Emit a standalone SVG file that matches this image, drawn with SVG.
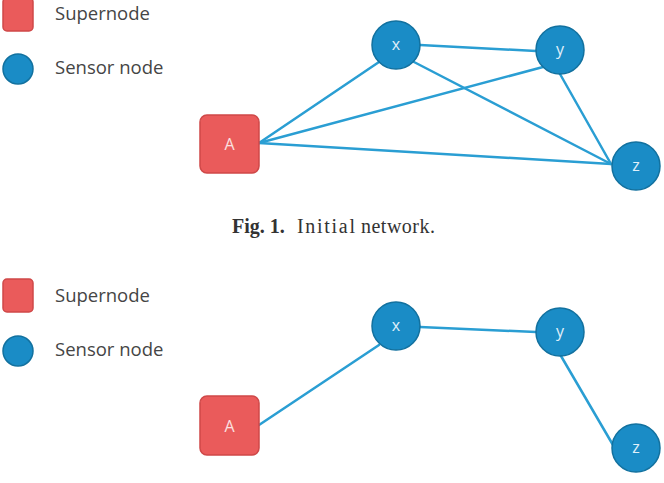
<svg xmlns="http://www.w3.org/2000/svg" width="664" height="483" viewBox="0 0 664 483">
<style>
.sup{fill:#EA5B5B;stroke:#CF4848;stroke-width:1.5}
.sen{fill:#1A8CC6;stroke:#12719F;stroke-width:1.5}
.leg{font-family:"Open Sans","Liberation Sans",sans-serif;font-size:18.5px;fill:#454545}
.lbl{font-family:"Open Sans","Liberation Sans",sans-serif;font-size:16px;text-anchor:middle}
.la{fill:#FBE0E0}
.ls{fill:#E0F0FA}
.edge{stroke:#2A9ED3;stroke-width:2.5;fill:none;stroke-linecap:round}
.cap{font-family:"Liberation Serif","Times New Roman",serif;font-size:20px;fill:#333}
</style>
<rect width="664" height="483" fill="#fff"/>
<!-- Top panel -->
<g id="legend1">
<rect class="sup" x="3" y="-2" width="30" height="33" rx="4"/>
<text class="leg" x="55" y="20">Supernode</text>
<circle class="sen" cx="18" cy="69" r="15"/>
<text class="leg" x="55" y="74">Sensor node</text>
</g>
<g id="edges1">
<line class="edge" x1="259" y1="143" x2="379" y2="62"/>
<line class="edge" x1="259" y1="143" x2="543" y2="67"/>
<line class="edge" x1="259" y1="143" x2="611" y2="164"/>
<line class="edge" x1="420" y1="45" x2="536" y2="51"/>
<line class="edge" x1="414" y1="62" x2="611" y2="164"/>
<line class="edge" x1="560" y1="74" x2="611" y2="164"/>
</g>
<g id="A1"><rect class="sup" x="200" y="115" width="59" height="58" rx="7"/><text class="lbl la" x="229.5" y="150">A</text></g>
<g id="x1"><circle class="sen" cx="396" cy="45" r="24"/><text class="lbl ls" x="396" y="50">x</text></g>
<g id="y1"><circle class="sen" cx="560" cy="50" r="24"/><text class="lbl ls" x="560" y="55">y</text></g>
<g id="z1"><circle class="sen" cx="636" cy="166" r="24"/><text class="lbl ls" x="636" y="171">z</text></g>
<text class="cap" y="233"><tspan x="232" font-weight="bold">Fig. 1.</tspan><tspan x="297" textLength="58" lengthAdjust="spacing">Initial</tspan><tspan x="361" textLength="74" lengthAdjust="spacing">network.</tspan></text>
<!-- Bottom panel -->
<g id="legend2">
<rect class="sup" x="3" y="279" width="30" height="33" rx="4"/>
<text class="leg" x="55" y="302">Supernode</text>
<circle class="sen" cx="18" cy="351" r="15"/>
<text class="leg" x="55" y="356">Sensor node</text>
</g>
<g id="edges2">
<line class="edge" x1="259" y1="425" x2="379" y2="345"/>
<line class="edge" x1="420" y1="327" x2="536" y2="332"/>
<line class="edge" x1="561" y1="356" x2="613" y2="445"/>
</g>
<g id="A2"><rect class="sup" x="200" y="396" width="59" height="59" rx="7"/><text class="lbl la" x="229.5" y="431.5">A</text></g>
<g id="x2"><circle class="sen" cx="396" cy="326" r="24"/><text class="lbl ls" x="396" y="331">x</text></g>
<g id="y2"><circle class="sen" cx="560" cy="332" r="24"/><text class="lbl ls" x="560" y="337">y</text></g>
<g id="z2"><circle class="sen" cx="636" cy="448" r="24"/><text class="lbl ls" x="636" y="453">z</text></g>
</svg>
